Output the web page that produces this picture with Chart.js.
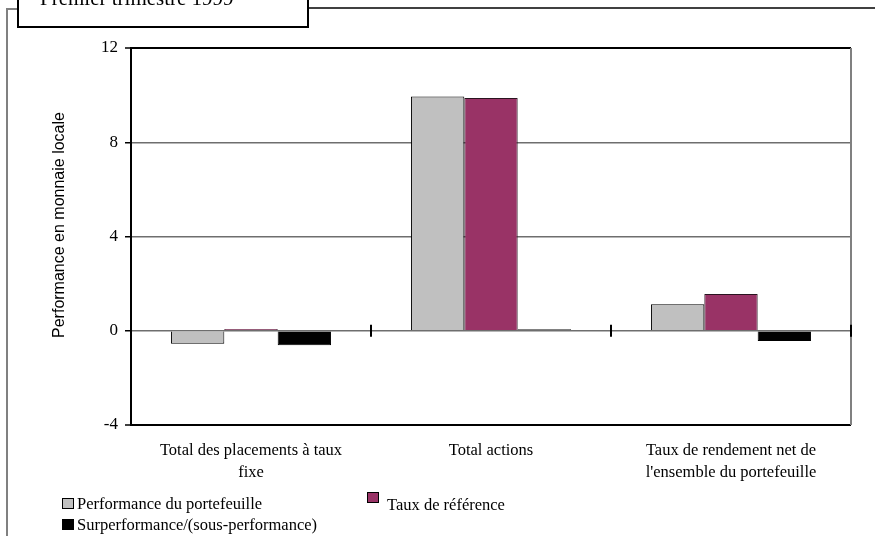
<!DOCTYPE html>
<html>
<head>
<meta charset="utf-8">
<script src="https://cdn.jsdelivr.net/npm/chart.js@4/dist/chart.umd.min.js"></script>
<style>
  html, body { margin: 0; padding: 0; background: #fff; }
  #wrap { position: relative; width: 875px; height: 536px; }
</style>
</head>
<body>
<div id="wrap"><canvas id="c" width="875" height="536"></canvas></div>
<script>
// Categories (wrapped over two lines where needed)
const categories = [
  ['Total des placements à taux', 'fixe'],
  'Total actions',
  ['Taux de rendement net de', "l'ensemble du portefeuille"]
];

// Series values, performance in local currency (%)
const portefeuille = [-0.55, 9.94, 1.12];
const reference = [0.07, 9.88, 1.56];
const surperformance = [-0.62, 0.06, -0.44];

const seriesNames = [
  'Performance du portefeuille',
  'Taux de référence',
  'Surperformance/(sous-performance)'
];

const yTicks = [-4, 0, 4, 8, 12];
const chartTitle = 'Premier trimestre 1999';
const yTitle = 'Performance en monnaie locale';

const SERIF = '"Liberation Serif", "Times New Roman", serif';
const SANS = '"Liberation Sans", Arial, sans-serif';

// Frame, title box, y title, legend and category ticks on the zero line
const decorations = {
  id: 'decorations',
  afterDraw(chart) {
    const ctx = chart.ctx;
    const area = chart.chartArea;
    const xs = chart.scales.x;
    const ys = chart.scales.y;
    ctx.save();

    // outer frame (left and top)
    ctx.strokeStyle = '#808080';
    ctx.lineWidth = 2;
    ctx.beginPath();
    ctx.moveTo(7, 536);
    ctx.lineTo(7, 9);
    ctx.lineTo(18, 9);
    ctx.stroke();
    ctx.strokeStyle = '#000';
    ctx.lineWidth = 1.5;
    ctx.beginPath();
    ctx.moveTo(308, 8);
    ctx.lineTo(875, 8);
    ctx.stroke();

    // title box
    ctx.fillStyle = '#fff';
    ctx.fillRect(18, -2, 290, 29);
    ctx.strokeStyle = '#000';
    ctx.lineWidth = 2;
    ctx.beginPath();
    ctx.moveTo(18, -2);
    ctx.lineTo(18, 27);
    ctx.lineTo(308, 27);
    ctx.lineTo(308, -2);
    ctx.stroke();
    ctx.fillStyle = '#000';
    ctx.font = '21px ' + SERIF;
    ctx.textAlign = 'left';
    ctx.textBaseline = 'alphabetic';
    ctx.fillText(chartTitle, 40, 4.5);

    // y axis title
    ctx.save();
    ctx.translate(60, 225);
    ctx.rotate(-Math.PI / 2);
    ctx.font = '16px ' + SANS;
    ctx.textAlign = 'center';
    ctx.textBaseline = 'middle';
    ctx.fillText(yTitle, 0, 0);
    ctx.restore();

    // right border of plot area
    ctx.strokeStyle = '#808080';
    ctx.lineWidth = 2;
    ctx.beginPath();
    ctx.moveTo(area.right, area.top);
    ctx.lineTo(area.right, area.bottom);
    ctx.stroke();

    // category ticks crossing the zero line
    const y0 = ys.getPixelForValue(0);
    ctx.strokeStyle = '#000';
    ctx.lineWidth = 2;
    for (let i = 0; i < categories.length; i++) {
      const xb = i < categories.length - 1
        ? (xs.getPixelForValue(i) + xs.getPixelForValue(i + 1)) / 2
        : area.right;
      ctx.beginPath();
      ctx.moveTo(xb, y0 - 6);
      ctx.lineTo(xb, y0 + 6);
      ctx.stroke();
    }

    // legend
    const ds = chart.data.datasets;
    const items = [
      { box: [62, 498], text: [77, 509] },
      { box: [367, 492], text: [387, 510] },
      { box: [62, 519], text: [77, 530] }
    ];
    ctx.font = '16.5px ' + SERIF;
    ctx.textAlign = 'left';
    ctx.textBaseline = 'alphabetic';
    items.forEach((it, i) => {
      ctx.fillStyle = ds[i].backgroundColor;
      ctx.fillRect(it.box[0], it.box[1], 12, 11);
      ctx.strokeStyle = '#000';
      ctx.lineWidth = 1;
      ctx.strokeRect(it.box[0] + 0.5, it.box[1] + 0.5, 11, 10);
      ctx.fillStyle = '#000';
      ctx.fillText(ds[i].label, it.text[0], it.text[1]);
    });

    ctx.restore();
  }
};

new Chart(document.getElementById('c'), {
  type: 'bar',
  data: {
    labels: categories,
    datasets: [
      { label: seriesNames[0], data: portefeuille, backgroundColor: '#C0C0C0', borderColor: '#000', borderWidth: 1 },
      { label: seriesNames[1], data: reference, backgroundColor: '#993366', borderColor: '#2a1420', borderWidth: 1 },
      { label: seriesNames[2], data: surperformance, backgroundColor: '#000000', borderColor: '#000', borderWidth: 1 }
    ]
  },
  options: {
    responsive: false,
    animation: false,
    devicePixelRatio: 1,
    layout: { padding: { left: 0, top: 48, right: 24, bottom: 0 } },
    datasets: { bar: { categoryPercentage: 0.667, barPercentage: 1.0 } },
    plugins: {
      legend: { display: false },
      tooltip: { enabled: false },
      title: { display: false }
    },
    scales: {
      x: {
        grid: { display: false, drawTicks: false },
        border: { display: false },
        ticks: {
          color: '#000',
          padding: 15,
          maxRotation: 0,
          autoSkip: false,
          font: { family: SERIF, size: 16.5, lineHeight: 1.33 }
        },
        afterFit(scale) { scale.height = 111; }
      },
      y: {
        min: -4,
        max: 12,
        afterBuildTicks(scale) { scale.ticks = yTicks.map(v => ({ value: v })); },
        ticks: {
          color: '#000',
          padding: 7,
          font: { family: SERIF, size: 17 }
        },
        grid: {
          color: ctx => (ctx.tick && (ctx.tick.value === 12 || ctx.tick.value === -4)) ? '#000' : '#6e6e6e',
          lineWidth: ctx => (ctx.tick && (ctx.tick.value === 12 || ctx.tick.value === -4)) ? 2 : 1.5,
          tickColor: '#000',
          tickLength: 6,
          tickWidth: 1.5
        },
        border: { display: true, color: '#000', width: 2 },
        afterFit(scale) { scale.width = 131; }
      }
    }
  },
  plugins: [decorations]
});
</script>
</body>
</html>
